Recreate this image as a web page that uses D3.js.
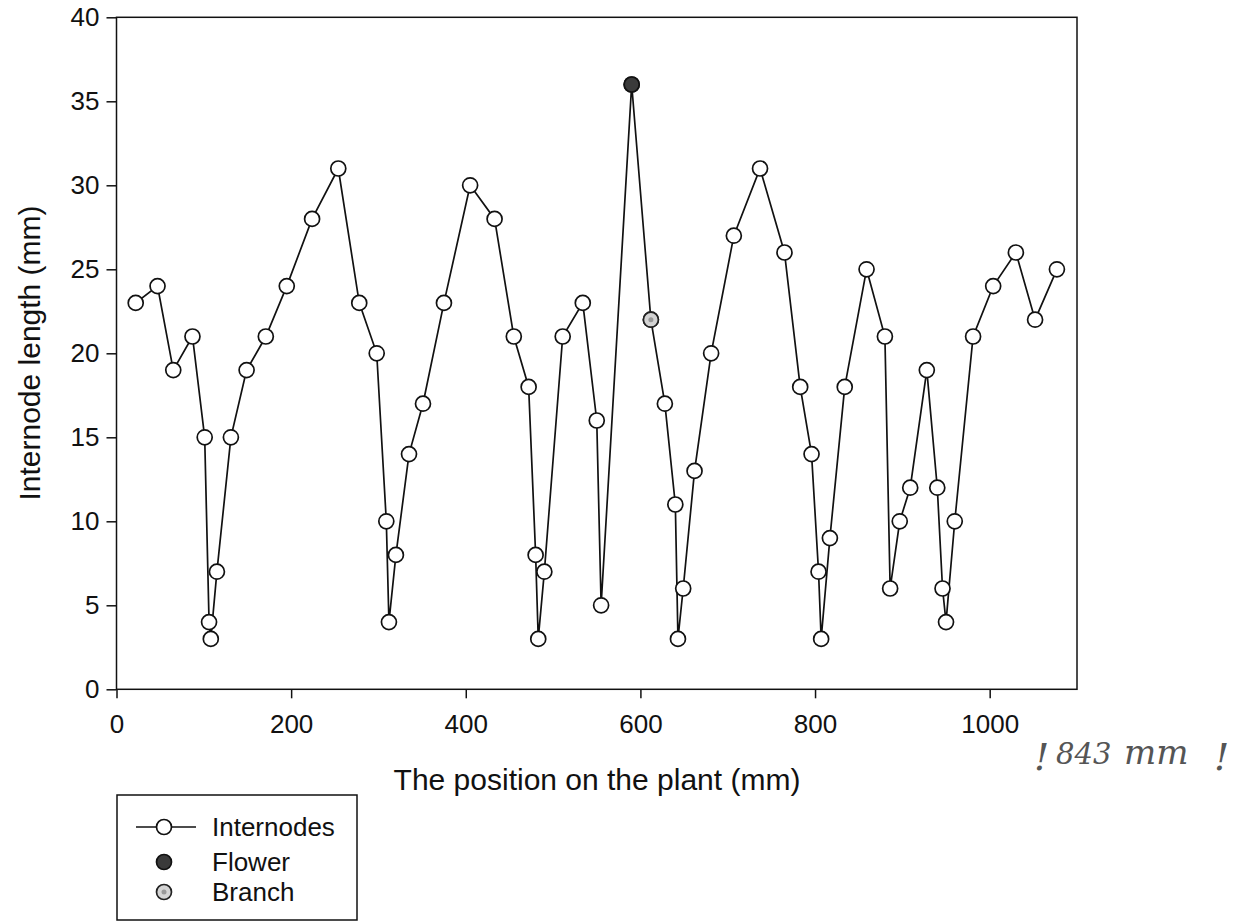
<!DOCTYPE html>
<html>
<head>
<meta charset="utf-8">
<script src="https://cdn.jsdelivr.net/npm/d3@7"></script>
<style>
  body { margin: 0; background: #fff; }
  svg { display: block; font-family: "Liberation Sans", Arial, sans-serif; }
</style>
</head>
<body>
<svg id="chart" width="1240" height="923"></svg>
<script>
// Internode positions along the plant (mm) and lengths (mm)
const positions = [22, 47, 65, 87, 101, 106, 108, 115, 131, 149, 171, 195, 224, 254, 278, 298, 309, 312, 320, 335,
    351, 375, 405, 433, 455, 472, 480, 483, 490, 511, 534, 550, 555, 590, 612, 628, 640, 643, 649, 662,
    681, 707, 737, 765, 783, 796, 804, 807, 817, 834, 859, 880, 886, 897, 909, 928, 940, 946, 950, 960,
    981, 1004, 1030, 1052, 1077];
const lengths = [23, 24, 19, 21, 15, 4, 3, 7, 15, 19, 21, 24, 28, 31, 23, 20, 10, 4, 8, 14,
    17, 23, 30, 28, 21, 18, 8, 3, 7, 21, 23, 16, 5, 36, 22, 17, 11, 3, 6, 13,
    20, 27, 31, 26, 18, 14, 7, 3, 9, 18, 25, 21, 6, 10, 12, 19, 12, 6, 4, 10,
    21, 24, 26, 22, 25];

const flowerPoints = [{ x: 590, y: 36 }];
const branchPoints = [{ x: 612, y: 22 }];

const xTicks = [0, 200, 400, 600, 800, 1000];
const yTicks = [0, 5, 10, 15, 20, 25, 30, 35, 40];
const legendItems = ['Internodes', 'Flower', 'Branch'];

const internodes = positions.map((p, i) => ({ x: p, y: lengths[i] }));

const svg = d3.select('#chart');

// Plot box
const plotLeft = 116.5, plotRight = 1077, plotTop = 17.3, plotBottom = 689.3;

const x = d3.scaleLinear().domain([0, 1100]).range([plotLeft, plotRight]);
const y = d3.scaleLinear().domain([0, 40]).range([plotBottom, plotTop]);

// Frame
svg.append('rect')
    .attr('x', plotLeft).attr('y', plotTop)
    .attr('width', plotRight - plotLeft).attr('height', plotBottom - plotTop)
    .attr('fill', 'none').attr('stroke', '#111').attr('stroke-width', 1.5);

// Axes
const xAxis = svg.append('g')
    .attr('transform', `translate(0,${plotBottom})`)
    .call(d3.axisBottom(x).tickValues(xTicks).tickSize(9).tickPadding(16).tickFormat(d3.format('d')));

const yAxis = svg.append('g')
    .attr('transform', `translate(${plotLeft},0)`)
    .call(d3.axisLeft(y).tickValues(yTicks).tickSize(10).tickPadding(7));

[xAxis, yAxis].forEach(g => {
    g.select('.domain').remove();
    g.selectAll('line').attr('stroke', '#111').attr('stroke-width', 1.5);
    g.selectAll('text')
        .attr('fill', '#111')
        .style('font-size', '26px')
        .style('font-family', '"Liberation Sans", Arial, sans-serif');
});

// Axis titles
svg.append('text')
    .attr('x', 597).attr('y', 790)
    .attr('text-anchor', 'middle')
    .style('font-size', '30px')
    .attr('fill', '#111')
    .text('The position on the plant (mm)');

svg.append('text')
    .attr('transform', 'translate(40,353) rotate(-90)')
    .attr('text-anchor', 'middle')
    .style('font-size', '30px')
    .attr('fill', '#111')
    .text('Internode length (mm)');

// Line through all internodes
const line = d3.line().x(d => x(d.x)).y(d => y(d.y));

svg.append('path')
    .datum(internodes)
    .attr('d', line)
    .attr('fill', 'none')
    .attr('stroke', '#111')
    .attr('stroke-width', 1.7);

// Internode markers
svg.append('g')
    .selectAll('circle')
    .data(internodes)
    .enter()
    .append('circle')
    .attr('cx', d => x(d.x))
    .attr('cy', d => y(d.y))
    .attr('r', 7.5)
    .attr('fill', '#fff')
    .attr('stroke', '#111')
    .attr('stroke-width', 1.7);

// Flower marker
svg.append('g')
    .selectAll('circle')
    .data(flowerPoints)
    .enter()
    .append('circle')
    .attr('cx', d => x(d.x))
    .attr('cy', d => y(d.y))
    .attr('r', 7.5)
    .attr('fill', '#3a3a3a')
    .attr('stroke', '#111')
    .attr('stroke-width', 1.7);

// Branch marker
function drawBranch(g, cx, cy) {
    g.append('circle')
        .attr('cx', cx).attr('cy', cy).attr('r', 7.5)
        .attr('fill', '#d4d4d4').attr('stroke', '#222').attr('stroke-width', 1.7);
    g.append('circle')
        .attr('cx', cx).attr('cy', cy).attr('r', 2.5)
        .attr('fill', '#999');
}
const branchG = svg.append('g');
branchPoints.forEach(d => drawBranch(branchG, x(d.x), y(d.y)));

// Handwritten note
const note = svg.append('g')
    .attr('fill', '#555')
    .style('font-family', '"DejaVu Serif", serif')
    .style('font-style', 'italic');
note.append('text').attr('x', 1034).attr('y', 770).style('font-size', '38px').text('!');
note.append('text').attr('x', 1056).attr('y', 764).style('font-size', '29px').text('843');
note.append('text').attr('x', 1124).attr('y', 764).style('font-size', '34px').text('mm');
note.append('text').attr('x', 1214).attr('y', 770).style('font-size', '38px').text('!');

// Legend
const legend = svg.append('g');
legend.append('rect')
    .attr('x', 117).attr('y', 795)
    .attr('width', 240).attr('height', 125)
    .attr('fill', '#fff').attr('stroke', '#111').attr('stroke-width', 1.5);

const rowY = [827, 862, 892];
const markerX = 164;

legend.append('line')
    .attr('x1', 136).attr('x2', 196)
    .attr('y1', rowY[0]).attr('y2', rowY[0])
    .attr('stroke', '#111').attr('stroke-width', 1.7);
legend.append('circle')
    .attr('cx', markerX).attr('cy', rowY[0]).attr('r', 7.5)
    .attr('fill', '#fff').attr('stroke', '#111').attr('stroke-width', 1.7);
legend.append('circle')
    .attr('cx', markerX).attr('cy', rowY[1]).attr('r', 7.5)
    .attr('fill', '#3a3a3a').attr('stroke', '#111').attr('stroke-width', 1.7);
drawBranch(legend, markerX, rowY[2]);

legend.selectAll('text.item')
    .data(legendItems)
    .enter()
    .append('text')
    .attr('class', 'item')
    .attr('x', 212)
    .attr('y', (d, i) => rowY[i])
    .attr('dy', '0.36em')
    .style('font-size', '26px')
    .attr('fill', '#111')
    .text(d => d);
</script>
</body>
</html>
